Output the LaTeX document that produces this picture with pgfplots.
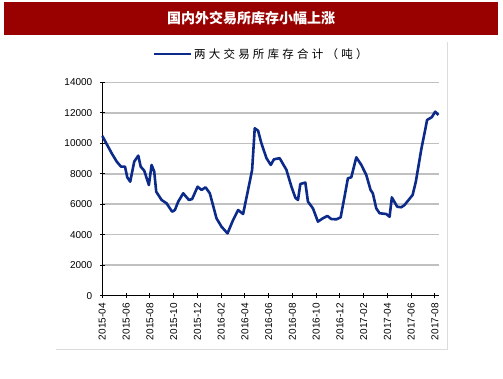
\documentclass[border=0pt]{standalone}
\usepackage{pgfplots}
\pgfplotsset{compat=1.18}
\usepackage{fontspec}
\setmainfont{Liberation Sans}
\newfontfamily\cjk{Noto Sans CJK SC}
\newfontfamily\cjkls{Noto Sans CJK SC}[LetterSpace=28]
\definecolor{titlered}{HTML}{990000}
\definecolor{lineblue}{HTML}{0C2A8A}
\definecolor{gridgray}{HTML}{C0C0C0}
\definecolor{framegray}{HTML}{DCDCDC}
\begin{document}
\begin{tikzpicture}
\path[use as bounding box] (0pt,0pt) rectangle (503pt,378pt);
\fill[titlered] (4pt,343pt) rectangle (498pt,376pt);
\node[text=white,font=\cjk\bfseries\fontsize{14}{14}\selectfont] at (251pt,359.5pt) {国内外交易所库存小幅上涨};
\draw[framegray,line width=1pt] (56pt,29pt) -- (447pt,29pt) -- (447pt,336pt);
\begin{axis}[
  at={(102.3pt,82.3pt)}, anchor=origin,
  scale only axis, width=336.7pt, height=213.4pt,
  xmin=0, xmax=28.34, ymin=0, ymax=14000,
  axis lines=left,
  axis line style={-, black, line width=1.1pt},
  xtick={0,2,...,28},
  xticklabels={2015-04,2015-06,2015-08,2015-10,2015-12,2016-02,2016-04,2016-06,2016-08,2016-10,2016-12,2017-02,2017-04,2017-06,2017-08},
  x tick label style={rotate=90, anchor=east, inner sep=2pt, xshift=-3pt},
  y tick label style={xshift=-4pt},
  ytick={0,2000,...,14000},
  scaled y ticks=false,
  tick align=center,
  major tick length=5pt,
  tick style={black, line width=1pt},
  tick label style={font=\fontsize{10}{10}\selectfont},
  /pgf/number format/assume math mode=true,
  /pgf/number format/1000 sep={},
  ymajorgrids,
  grid style={gridgray, line width=1.5pt},
  legend style={draw=none, fill=none, at={(0.1497,1.1326)}, anchor=west, inner sep=0pt,
    font=\cjkls\fontsize{11.5}{11.5}\selectfont},
  legend image code/.code={\draw[#1] (0pt,0pt) -- (36.6pt,0pt);},
  clip=false,
]
\addplot[color=lineblue, line width=2.6pt, line join=round] coordinates {
(0,10480) (0.79,9345) (1.21,8800) (1.57,8470) (1.91,8470) (2.10,7770) (2.35,7480)
(2.69,8800) (3.03,9190) (3.23,8470) (3.53,8200) (3.92,7260) (4.15,8580) (4.37,8140)
(4.54,6820) (4.99,6280) (5.41,6060) (5.88,5510) (6.11,5620) (6.39,6170) (6.81,6720)
(7.29,6280) (7.56,6340) (8.02,7150) (8.35,6940) (8.69,7110) (9.05,6720) (9.61,5080)
(10.03,4530) (10.54,4090) (11.01,4970) (11.43,5620) (11.85,5360) (12.27,6940) (12.61,8250)
(12.83,10980) (13.11,10830) (13.39,10000) (13.82,9020) (14.18,8580) (14.45,8950) (14.93,9020)
(15.50,8250) (15.92,7150) (16.25,6430) (16.47,6280) (16.67,7330) (17.09,7420) (17.31,6170)
(17.73,5730) (18.15,4860) (18.57,5080) (18.94,5230) (19.28,5030) (19.70,5010) (20.06,5140)
(20.39,6500) (20.67,7700) (20.96,7770) (21.38,9080) (21.80,8580) (22.22,7920) (22.58,6940)
(22.77,6720) (23.06,5730) (23.34,5410) (23.90,5360) (24.18,5180) (24.37,6450) (24.82,5840)
(25.16,5800) (25.44,5950) (26.12,6610) (26.39,7480) (26.84,9560) (27.34,11530) (27.73,11710)
(28.02,12070) (28.29,11860)
};
\addlegendentry{两大交易所库存合计（吨）}
\end{axis}
\end{tikzpicture}
\end{document}
